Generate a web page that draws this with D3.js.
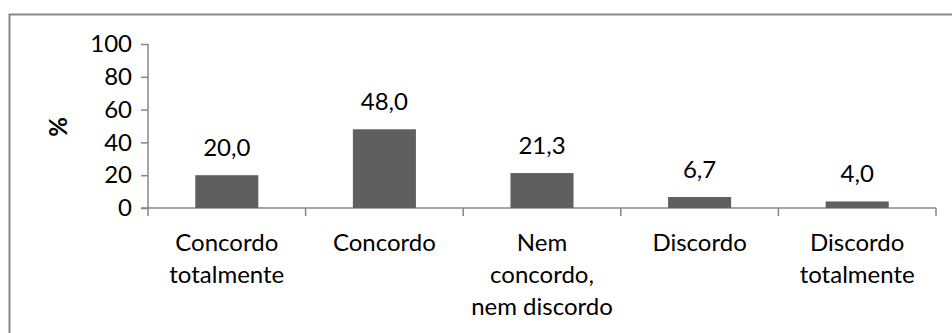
<!DOCTYPE html>
<html>
<head>
<meta charset="utf-8">
<script src="https://cdn.jsdelivr.net/npm/d3@7"></script>
<style>
  html, body { margin: 0; padding: 0; background: #fff; }
  svg { display: block; }
  text { font-family: Lato, "Open Sans", sans-serif; fill: #000; }
</style>
</head>
<body>
<svg id="chart" width="952" height="333"></svg>
<script>
// Survey answers (percent)
const categories = [
  ["Concordo", "totalmente"],
  ["Concordo"],
  ["Nem", "concordo,", "nem discordo"],
  ["Discordo"],
  ["Discordo", "totalmente"]
];
const values = [20.0, 48.0, 21.3, 6.7, 4.0];
const yTicks = [0, 20, 40, 60, 80, 100];
const yTitle = "%";

const fmt = v => v.toFixed(1).replace(".", ",");
const svg = d3.select("#chart");
const W = 952, H = 333;
const fontSize = 24;
const axisColor = "#878787";

// Outer frame (open on right and bottom edges)
svg.append("rect")
  .attr("x", 9.5).attr("y", 14.5)
  .attr("width", W + 10).attr("height", H + 10)
  .attr("fill", "none").attr("stroke", axisColor).attr("stroke-width", 2);

const plot = { left: 148, right: 936, top: 44, bottom: 208 };

const x = d3.scaleBand()
  .domain(d3.range(categories.length))
  .range([plot.left, plot.right])
  .paddingInner(0.6).paddingOuter(0.3);

const y = d3.scaleLinear().domain([0, 100]).range([plot.bottom, plot.top]);

// Y axis
const yAxis = svg.append("g")
  .attr("transform", `translate(${plot.left},0)`)
  .call(d3.axisLeft(y).tickValues(yTicks).tickSize(7).tickPadding(9).tickFormat(d => d));
yAxis.select(".domain").attr("stroke", axisColor).attr("stroke-width", 1.5).attr("d", `M0,${plot.top}V${plot.bottom}`);
yAxis.selectAll(".tick line").attr("stroke", axisColor).attr("stroke-width", 1.5);
yAxis.selectAll(".tick text")
  .style("font-family", "Lato, sans-serif").style("font-size", fontSize + "px").attr("fill", "#000");

// X axis with boundary ticks between categories
const bounds = d3.range(categories.length + 1).map(i => plot.left + i * (plot.right - plot.left) / categories.length);
svg.append("line")
  .attr("x1", plot.left - 7).attr("x2", plot.right)
  .attr("y1", plot.bottom).attr("y2", plot.bottom)
  .attr("stroke", axisColor).attr("stroke-width", 1.5);
svg.selectAll(".xtick").data(bounds).join("line")
  .attr("x1", d => d).attr("x2", d => d)
  .attr("y1", plot.bottom).attr("y2", plot.bottom + 8)
  .attr("stroke", axisColor).attr("stroke-width", 1.5);

// Bars
svg.selectAll(".bar").data(values).join("rect")
  .attr("x", (d, i) => x(i))
  .attr("y", d => y(d))
  .attr("width", x.bandwidth())
  .attr("height", d => y(0) - y(d))
  .attr("fill", "#5f5f5f");

// Value labels
svg.selectAll(".val").data(values).join("text")
  .attr("x", (d, i) => x(i) + x.bandwidth() / 2)
  .attr("y", d => y(d) - 19)
  .attr("text-anchor", "middle")
  .style("font-size", fontSize + "px")
  .text(d => fmt(d));

// Category labels
const cat = svg.selectAll(".cat").data(categories).join("text")
  .attr("text-anchor", "middle")
  .style("font-size", fontSize + "px");
cat.each(function(lines, i) {
  d3.select(this).selectAll("tspan").data(lines).join("tspan")
    .attr("x", x(i) + x.bandwidth() / 2)
    .attr("y", (d, j) => 251 + j * 32)
    .text(d => d);
});

// Y title
svg.append("text")
  .attr("transform", "translate(67,127) rotate(-90)")
  .attr("text-anchor", "middle")
  .style("font-size", fontSize + "px").style("font-weight", "bold")
  .text(yTitle);
</script>
</body>
</html>
